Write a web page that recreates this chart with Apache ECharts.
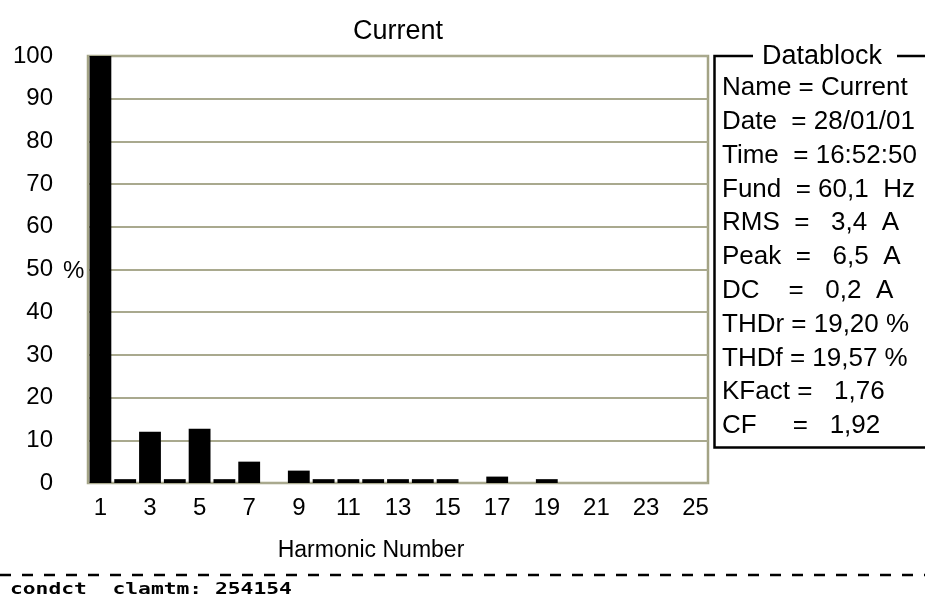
<!DOCTYPE html>
<html>
<head>
<meta charset="utf-8">
<title>Current – Harmonic spectrum</title>
<script src="https://cdn.jsdelivr.net/npm/echarts@6/dist/echarts.min.js"></script>
<style>
  html, body { margin: 0; padding: 0; background: #fff; }
  #chart { width: 925px; height: 594px; }
</style>
</head>
<body>
<div id="chart"></div>
<script>
// Harmonic spectrum of the measured current, in % of the fundamental
const chartTitle = 'Current';
const xAxisName = 'Harmonic Number';
const harmonics = ['1','2','3','4','5','6','7','8','9','10','11','12','13',
                   '14','15','16','17','18','19','20','21','22','23','24','25'];
const amplitudes = [100, 0.9, 12.0, 0.9, 12.7, 0.9, 5.0, 0, 2.9, 0.9, 0.9, 0.9, 0.9,
                    0.9, 0.9, 0, 1.5, 0, 0.9, 0, 0, 0, 0, 0, 0];
const yTicks = [0, 10, 20, 30, 40, 50, 60, 70, 80, 90, 100];

// Datablock summary
const datablockTitle = 'Datablock';
const datablockLines = [
  'Name = Current',
  'Date  = 28/01/01',
  'Time  = 16:52:50',
  'Fund  = 60,1  Hz',
  'RMS  =   3,4  A',
  'Peak  =   6,5  A',
  'DC    =   0,2  A',
  'THDr = 19,20 %',
  'THDf = 19,57 %',
  'KFact =   1,76',
  'CF     =   1,92'
];
const footerText = 'condct  clamtm: 254154';

const FONT = 'Liberation Sans';
const chart = echarts.init(document.getElementById('chart'), null, { renderer: 'canvas' });

const gridLeft = 88, gridTop = 56, gridRight = 217, gridBottom = 111;

// Datablock frame and rows
const boxLeft = 714.5, boxTop = 56, boxBottom = 447.5;
const graphics = [
  {
    type: 'polyline',
    shape: { points: [[753, boxTop], [boxLeft, boxTop], [boxLeft, boxBottom], [935, boxBottom]] },
    style: { stroke: '#000', lineWidth: 2.5, fill: null }
  },
  {
    type: 'line',
    shape: { x1: 897, y1: boxTop, x2: 935, y2: boxTop },
    style: { stroke: '#000', lineWidth: 2.5 }
  },
  {
    type: 'text',
    x: 762, y: 57,
    style: { text: datablockTitle, fill: '#000', font: '27px "' + FONT + '"', textVerticalAlign: 'middle' }
  },
  // unit mark beside the 50 tick
  {
    type: 'text',
    x: 63, y: 271,
    style: { text: '%', fill: '#000', font: '24px "' + FONT + '"', textVerticalAlign: 'middle' }
  },
  // dashed separator
  {
    type: 'line',
    shape: { x1: 0, y1: 575, x2: 925, y2: 575 },
    style: { stroke: '#000', lineWidth: 2.5, lineDash: [11, 11] }
  },
  {
    type: 'text',
    x: 10, y: 582,
    scaleX: 1.33,
    style: { text: footerText, fill: '#000', font: 'bold 16px "DejaVu Sans Mono"', textVerticalAlign: 'top' }
  }
];
datablockLines.forEach(function (line, i) {
  graphics.push({
    type: 'text',
    x: 722, y: 88 + i * 33.8,
    style: { text: line, fill: '#000', font: '26px "' + FONT + '"', textVerticalAlign: 'middle' }
  });
});

const option = {
  animation: false,
  backgroundColor: '#fff',
  textStyle: { fontFamily: FONT },
  title: {
    text: chartTitle,
    left: 398,
    top: 18,
    padding: 0,
    textAlign: 'center',
    textStyle: { fontSize: 27, fontWeight: 'normal', color: '#000', fontFamily: FONT }
  },
  grid: {
    left: gridLeft, top: gridTop, right: gridRight, bottom: gridBottom,
    show: true,
    borderColor: '#a3a385',
    borderWidth: 2.5,
    backgroundColor: 'transparent'
  },
  xAxis: {
    type: 'category',
    data: harmonics,
    axisLine: { show: false },
    axisTick: { show: false },
    axisLabel: { interval: 1, margin: 13, fontSize: 24, color: '#000', fontFamily: FONT },
    name: xAxisName,
    nameLocation: 'middle',
    nameGap: 56,
    nameTextStyle: { fontSize: 23, color: '#000', fontFamily: FONT, padding: [0, 54, 0, 0] }
  },
  yAxis: {
    type: 'value',
    min: yTicks[0],
    max: yTicks[yTicks.length - 1],
    interval: yTicks[1] - yTicks[0],
    axisLine: { show: false },
    axisTick: { show: false },
    axisLabel: { margin: 35, fontSize: 24, color: '#000', fontFamily: FONT },
    splitLine: { show: true, lineStyle: { color: '#a9a98e', width: 2 } }
  },
  series: [{
    type: 'bar',
    data: amplitudes,
    barCategoryGap: '12%',
    itemStyle: { color: '#000' },
    z: 3
  }],
  graphic: graphics
};

chart.setOption(option);
</script>
</body>
</html>
